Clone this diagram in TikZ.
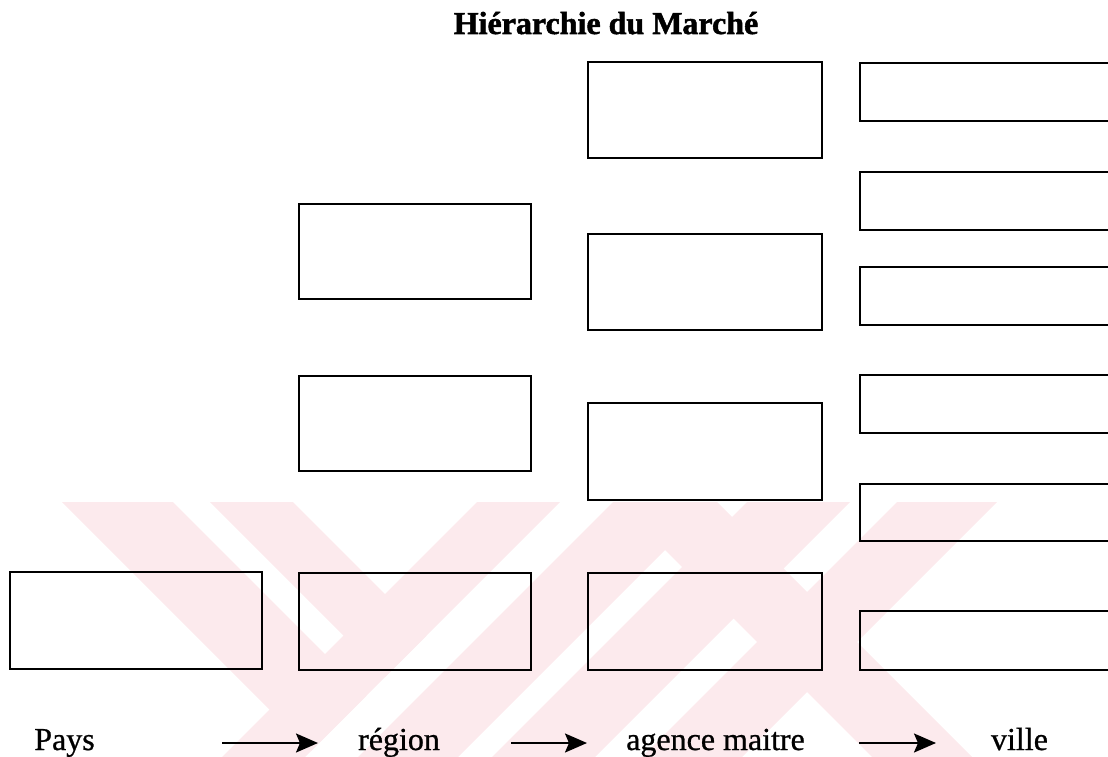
\documentclass[tikz,border=0pt]{standalone}
\usepackage{fontspec}
\setmainfont{Liberation Serif}
\newfontfamily\titlefont{Liberation Serif}[UprightFont=* Bold, FakeBold=1.6]
\newfontfamily\labelfont{Liberation Serif}[FakeBold=0.8]
\usetikzlibrary{arrows.meta}
\definecolor{wmpink}{RGB}{252,234,237}
\begin{document}
\begin{tikzpicture}[x=1pt,y=-1pt,
  cell/.style={draw=black, line width=2.1pt, inner sep=0pt, rectangle},
  regcell/.style={cell, minimum width=232, minimum height=95},
  agcell/.style={cell, minimum width=234, minimum height=96},
  vcell/.style={cell, minimum width=270, minimum height=58},
  lvl/.style={anchor=base, font=\labelfont\fontsize{32}{36}\selectfont, inner sep=0pt},
  flow/.style={line width=2pt, -{Stealth[length=22pt, width=19pt, inset=4pt]}},
  wm/.style={fill=wmpink, draw=none}]
\useasboundingbox (0,0) rectangle (1108,757);
\clip (0,0) rectangle (1108,757);

% faint background emblem made of diagonal bands
\fill[wm] (62,502) -- (173,502) -- (366.5,695.5) -- (311,751) -- cycle;
\fill[wm] (210,502) -- (293,502) -- (426.5,635.5) -- (385,677) -- cycle;
\fill[wm] (477,502) -- (560,502) -- (305,757) -- (222,757) -- cycle;
\fill[wm] (613,502) -- (713,502) -- (458,757) -- (358,757) -- cycle;
\fill[wm] (747,502) -- (850,502) -- (595,757) -- (492,757) -- cycle;
\fill[wm] (897,502) -- (997,502) -- (742,757) -- (642,757) -- cycle;
\fill[wm] (617,502) -- (717,502) -- (972,757) -- (872,757) -- cycle;

% title
\node[anchor=base, inner sep=0pt, font=\titlefont\fontsize{32}{36}\selectfont] (title) at (606,34) {Hiérarchie du Marché};

% country level
\node[cell, minimum width=252, minimum height=97] (pays) at (136,620.5) {};

% regions
\node[regcell] (reg1) at (415,251.5) {};
\node[regcell] (reg2) at (415,423.5) {};
\node[regcell, minimum height=97] (reg3) at (415,621.5) {};

% master agencies
\node[agcell] (ag1) at (705,110) {};
\node[agcell] (ag2) at (705,282) {};
\node[agcell, minimum height=97] (ag3) at (705,451.5) {};
\node[agcell, minimum height=97] (ag4) at (705,621.5) {};

% cities
\node[vcell] (v1) at (995,92) {};
\node[vcell] (v2) at (995,201) {};
\node[vcell] (v3) at (995,296) {};
\node[vcell] (v4) at (995,404) {};
\node[vcell, minimum height=57] (v5) at (995,512.5) {};
\node[vcell, minimum height=59] (v6) at (995,640.5) {};

% level labels
\node[lvl] (lpays) at (64.5,750) {Pays};
\node[lvl] (lregion) at (399,750) {région};
\node[lvl] (lagence) at (715.5,750) {agence maitre};
\node[lvl] (lville) at (1019.5,750) {ville};

% arrows between levels
\coordinate (a1s) at (222,743);
\coordinate (a1e) at (318,743);
\coordinate (a2s) at (511,743);
\coordinate (a2e) at (587,743);
\coordinate (a3s) at (859,743);
\coordinate (a3e) at (936,743);
\draw[flow] (a1s) -- (a1e);
\draw[flow] (a2s) -- (a2e);
\draw[flow] (a3s) -- (a3e);
\end{tikzpicture}
\end{document}
